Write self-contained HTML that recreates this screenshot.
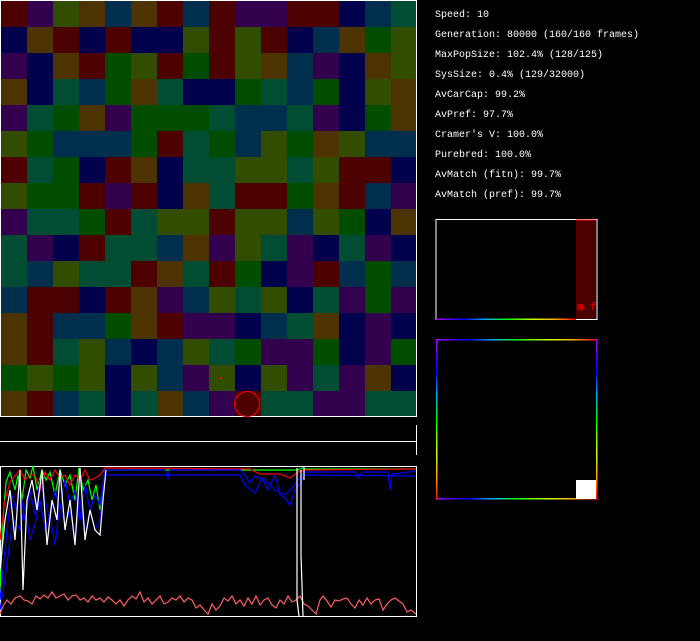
<!DOCTYPE html>
<html><head><meta charset="utf-8"><style>
body{margin:0;background:#000;width:700px;height:641px;overflow:hidden;position:relative;font-family:"Liberation Mono",monospace;}
#grid{position:absolute;left:1px;top:1px;width:416px;height:416px;display:grid;grid-template-columns:repeat(16,26px);grid-template-rows:repeat(16,26px);}
.t{position:absolute;left:435px;color:#fff;font-size:10px;line-height:20px;white-space:pre;}
</style></head><body>
<div id="grid"></div>
<svg width="700" height="641" style="position:absolute;left:0;top:0">
<rect x="0.5" y="0.5" width="416" height="416" fill="none" stroke="#fff" stroke-width="1"/>
<line x1="0" y1="441.5" x2="416" y2="441.5" stroke="#fff"/>
<line x1="416.5" y1="425" x2="416.5" y2="455" stroke="#fff"/>
<circle cx="247" cy="404" r="12.5" fill="#4d0000" stroke="#f00" stroke-width="1"/>
<rect x="220" y="377" width="2" height="2" fill="#f00"/>
<rect x="0.5" y="466.5" width="416" height="150" fill="#000" stroke="#fff"/>
<g fill="none" stroke-width="1.2">
<polyline stroke="#ff6060" points="0,614 3,606 7,600 11,604 15,598 20,596 24,600 28,601 32,604 36,596 40,599 44,595 48,598 52,592 56,598 60,596 64,594 68,600 72,596 76,595 80,600 84,598 88,602 92,596 96,600 100,598 104,602 108,597 112,600 116,604 120,600 124,606 128,600 132,596 136,599 140,592 144,602 148,598 152,604 156,600 160,596 164,604 168,602 172,598 176,600 180,596 184,602 188,598 192,600 196,608 200,605 204,610 208,614 212,604 216,610 220,606 224,598 228,601 232,596 236,604 240,600 244,606 248,598 252,604 256,596 260,605 264,600 268,598 272,605 276,608 280,600 284,604 288,596 292,602 296,600 300,596 304,604 308,606 312,610 316,614 320,600 323,596 327,601 331,607 335,600 339,601 343,599 347,598 351,604 355,608 359,600 363,605 367,598 371,604 375,600 379,599 383,610 387,604 391,600 395,598 399,601 403,604 407,612 411,610 416,614"/>
<polyline stroke="#0f0" points="0,590 3,520 6,482 10,472 15,490 18,475 22,500 26,470 30,478 33,466 37,490 42,470 46,480 50,472 55,495 60,470 65,485 70,475 75,500 79,468 83,490 88,480 92,500 96,485 100,510 105,470 298,470 302,468 305,469 416,469"/>
<polyline stroke="#f00" points="0,540 5,500 10,482 15,476 20,470 25,480 30,475 35,475 40,490 45,472 50,480 55,470 60,478 65,475 70,485 75,475 80,480 85,470 90,480 95,478 100,475 105,468 250,469 260,474 280,474 290,478 298,472 305,470 416,469"/>
<polyline stroke="#00f" points="0,600 4,560 8,520 12,495 16,510 20,490 25,520 30,490 35,515 40,480 45,500 50,520 55,490 60,510 65,480 70,505 75,490 80,520 85,485 90,510 95,495 100,505 105,470 165,470 168,478 170,470 240,470 245,475 250,483 255,476 265,480 275,490 285,495 292,488 298,480 305,472 355,472 358,478 362,472 388,472 390,490 392,474 416,471"/>
<polyline stroke="#00f" points="0,610 5,580 10,540 14,520 20,530 25,505 30,540 35,525 40,500 45,530 50,515 55,545 60,505 65,525 70,510 75,540 80,500 85,535 90,510 95,530 100,520 105,475 240,475 245,485 255,493 262,478 268,490 275,475 280,495 285,498 290,505 295,490 300,483 305,475 416,476"/>
<polyline stroke="#fff" points="0,570 5,520 10,490 15,540 20,470 23,590 27,500 32,480 37,510 42,470 47,545 52,500 57,520 60,470 65,530 70,500 75,545 80,468 85,540 90,510 95,530 100,535 103,500 106,470"/>
<polyline stroke="#fff" points="297,468 297,600 299,616"/>
<polyline stroke="#fff" points="301,470 301,555 303,616"/>
<polyline stroke="#fff" points="304,467 304,480"/>
</g>
<rect x="436" y="219.5" width="161" height="100" fill="none" stroke="#fff"/>
<rect x="576" y="220" width="20" height="99" fill="#4d0000"/>
<line x1="576" y1="220" x2="596" y2="220" stroke="#f00"/>
<text x="577" y="310" fill="#f00" font-size="11" font-family="Liberation Mono">m f</text>
<defs>
<linearGradient id="rb" x1="0" x2="1" y1="0" y2="0"><stop offset="0" stop-color="#a0f"/><stop offset="0.2" stop-color="#00f"/><stop offset="0.35" stop-color="#0af"/><stop offset="0.5" stop-color="#0f0"/><stop offset="0.7" stop-color="#cf0"/><stop offset="0.85" stop-color="#fa0"/><stop offset="1" stop-color="#f00"/></linearGradient>
<linearGradient id="rbv" x1="0" x2="0" y1="0" y2="1"><stop offset="0" stop-color="#a0f"/><stop offset="0.2" stop-color="#00f"/><stop offset="0.35" stop-color="#0af"/><stop offset="0.5" stop-color="#0f0"/><stop offset="0.7" stop-color="#cf0"/><stop offset="0.85" stop-color="#fa0"/><stop offset="1" stop-color="#f00"/></linearGradient>
</defs>
<rect x="436" y="318.5" width="140" height="1.5" fill="url(#rb)"/>
<rect x="436" y="339" width="161" height="1.5" fill="url(#rb)"/>
<rect x="436" y="498" width="161" height="1.5" fill="url(#rb)"/>
<rect x="436" y="339" width="1.5" height="161" fill="url(#rbv)"/>
<rect x="596" y="339" width="1.5" height="161" fill="url(#rbv)"/>
<rect x="576" y="480" width="20" height="19" fill="#fff"/>
</svg>
<div class="t" style="top:6px">Speed: 10
Generation: 80000 (160/160 frames)
MaxPopSize: 102.4% (128/125)
SysSize: 0.4% (129/32000)
AvCarCap: 99.2%
AvPref: 97.7%
Cramer's V: 100.0%
Purebred: 100.0%
AvMatch (fitn): 99.7%
AvMatch (pref): 99.7%</div>
<script>
var C={R:"#4d0000",P:"#33004d",Y:"#334d00",O:"#4d3300",B:"#002f4d",N:"#00004d",G:"#004d00",T:"#004d33"};
var rows=["RPYOBORBRPPRRNBT","NORNRNNYRYRNBOGY","PNORGYRGRYOBPNOY","ONTBGOTNNGTBGNYO","PTGOPGGGTBBTPNGO","YGBBBGRTGBYGOYBB","RTGNRONTTYYTYRRN","YGGRPRNOTRRGORBP","PTTGRTYYRYYBYGNO","TPNRTTBOPYTPNTPN","TBYTTROTRGNPRBGB","BRRNROPBYTYNTPGP","ORBBGORPPNBTONPN","ORTYBNBYTGPPGNPG","GYGYNYBPYNYPTPON","ORBTNTOBPRTTPPTT"];
var g=document.getElementById("grid"),h="";
rows.forEach(function(r){for(var i=0;i<16;i++)h+='<div style="background:'+C[r[i]]+'"></div>';});
g.innerHTML=h;
</script>
</body></html>
